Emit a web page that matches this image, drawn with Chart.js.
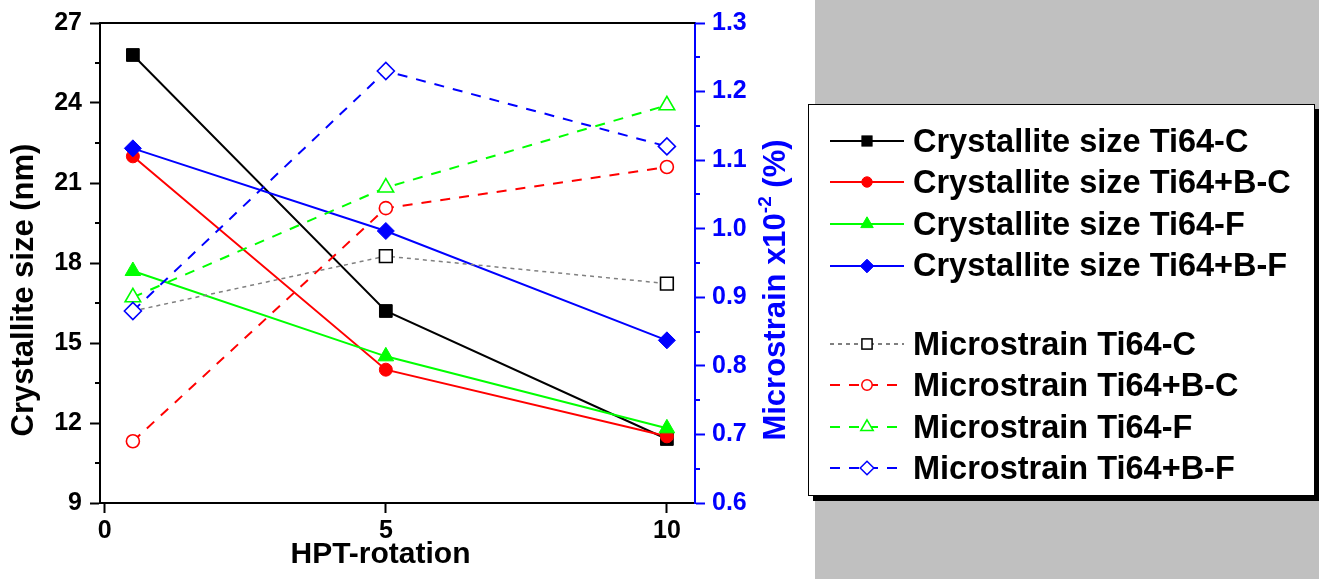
<!DOCTYPE html>
<html>
<head>
<meta charset="utf-8">
<script src="https://cdn.jsdelivr.net/npm/chart.js@4.4.1/dist/chart.umd.min.js"></script>
<style>
  html, body { margin: 0; padding: 0; background: #fff; }
  #wrap { position: relative; width: 1319px; height: 579px; overflow: hidden;
          font-family: "Liberation Sans", Arial, Helvetica, sans-serif; }
  #plot { position: absolute; left: 0; top: 0; }
  #panel { position: absolute; left: 815px; top: 0; width: 504px; height: 579px; background: #c0c0c0; }
  #legend { position: absolute; left: 808px; top: 104px; width: 505px; height: 390px;
            background: #fff; border: 1px solid #000; box-shadow: 5px 5px 0 #000; }
  .row { position: absolute; left: 0; height: 40px; display: flex; align-items: center; }
  .row svg { margin-left: 21px; flex: none; }
  .row span { margin-left: 9px; font-weight: bold; font-size: 32.5px; color: #000; white-space: nowrap; }
</style>
</head>
<body>
<div id="wrap">
  <canvas id="plot" width="1319" height="579"></canvas>
  <div id="panel"></div>
  <div id="legend"></div>
</div>
<script>
// HPT rotations (x values)
const rotations = [0.5, 5, 10];

// Crystallite size (nm), left axis
const sizeTi64C  = [25.8, 16.2, 11.4];
const sizeTi64BC = [22.0, 14.0, 11.5];
const sizeTi64F  = [17.7, 14.5, 11.8];
const sizeTi64BF = [22.3, 19.2, 15.1];

// Microstrain (x10^-2 %), right axis
const strainTi64C  = [0.88, 0.96, 0.92];
const strainTi64BC = [0.69, 1.03, 1.09];
const strainTi64F  = [0.90, 1.06, 1.18];
const strainTi64BF = [0.88, 1.23, 1.12];

// Tick labels
const xTickValues = [0, 5, 10];
const sizeTickValues = [9, 12, 15, 18, 21, 24, 27];
const strainTickValues = [0.6, 0.7, 0.8, 0.9, 1.0, 1.1, 1.2, 1.3];

const FONT = "'Liberation Sans', Arial, Helvetica, sans-serif";
Chart.defaults.font.family = FONT;

const BLACK = '#000000', RED = '#ff0000', GREEN = '#00ff00', BLUE = '#0000ff', GREY = '#808080';

// Series appearance
const series = [
  { label: 'Crystallite size Ti64-C',   values: sizeTi64C,   axis: 'y',  color: BLACK, line: BLACK, dash: [],      width: 2,   shape: 'rect',     filled: true,  r: 9 },
  { label: 'Crystallite size Ti64+B-C', values: sizeTi64BC,  axis: 'y',  color: RED,   line: RED,   dash: [],      width: 2,   shape: 'circle',   filled: true,  r: 6.5 },
  { label: 'Crystallite size Ti64-F',   values: sizeTi64F,   axis: 'y',  color: GREEN, line: GREEN, dash: [],      width: 2,   shape: 'triangle', filled: true,  r: 9 },
  { label: 'Crystallite size Ti64+B-F', values: sizeTi64BF,  axis: 'y',  color: BLUE,  line: BLUE,  dash: [],      width: 2,   shape: 'rectRot',  filled: true,  r: 8.5 },
  { label: 'Microstrain Ti64-C',        values: strainTi64C,  axis: 'y1', color: BLACK, line: GREY,  dash: [4, 4],  width: 1.5, shape: 'rect',     filled: false, r: 9, hideFirst: true },
  { label: 'Microstrain Ti64+B-C',      values: strainTi64BC, axis: 'y1', color: RED,   line: RED,   dash: [10, 9], width: 2,   shape: 'circle',   filled: false, r: 6.5 },
  { label: 'Microstrain Ti64-F',        values: strainTi64F,  axis: 'y1', color: GREEN, line: GREEN, dash: [10, 9], width: 2,   shape: 'triangle', filled: false, r: 9 },
  { label: 'Microstrain Ti64+B-F',      values: strainTi64BF, axis: 'y1', color: BLUE,  line: BLUE,  dash: [10, 9], width: 2,   shape: 'rectRot',  filled: false, r: 8.5 }
];

const datasets = series.map((s, i) => ({
  label: s.label,
  data: rotations.map((x, k) => ({ x: x, y: s.values[k] })),
  yAxisID: s.axis,
  order: series.length - i,
  borderColor: s.line,
  borderWidth: s.width,
  borderDash: s.dash,
  tension: 0,
  fill: false,
  pointStyle: s.shape,
  pointRadius: s.hideFirst ? rotations.map((_, k) => (k === 0 ? 0 : s.r)) : s.r,
  pointHoverRadius: s.r,
  pointBackgroundColor: s.filled ? s.color : '#ffffff',
  pointBorderColor: s.color,
  pointBorderWidth: s.filled ? 1 : 1.6
}));

function fixedTicks(values) {
  return function (scale) { scale.ticks = values.map(v => ({ value: v })); };
}

// Draws a vertical title reading bottom to top; parts are [text, font, raise]
function verticalTitle(ctx, cx, cy, parts, color) {
  ctx.save();
  const widths = parts.map(p => { ctx.font = p[1]; return ctx.measureText(p[0]).width; });
  const total = widths.reduce((a, b) => a + b, 0);
  ctx.translate(cx, cy);
  ctx.rotate(-Math.PI / 2);
  ctx.fillStyle = color;
  ctx.textAlign = 'left';
  ctx.textBaseline = 'middle';
  let x = -total / 2;
  parts.forEach((p, i) => { ctx.font = p[1]; ctx.fillText(p[0], x, -p[2]); x += widths[i]; });
  ctx.restore();
}

// Frame: top border, minor ticks and axis titles
const framePlugin = {
  id: 'frame',
  afterDraw(chart) {
    const { ctx, chartArea: a, scales } = chart;
    ctx.save();
    ctx.strokeStyle = BLACK;
    ctx.lineWidth = 2;
    ctx.beginPath();
    ctx.moveTo(a.left - 1, a.top);
    ctx.lineTo(a.right, a.top);
    ctx.stroke();

    const minor = (scale, vals, x0, x1, color) => {
      ctx.strokeStyle = color;
      ctx.lineWidth = 2;
      for (let i = 0; i < vals.length - 1; i++) {
        const y = Math.round(scale.getPixelForValue((vals[i] + vals[i + 1]) / 2));
        ctx.beginPath();
        ctx.moveTo(x0, y);
        ctx.lineTo(x1, y);
        ctx.stroke();
      }
    };
    minor(scales.y, sizeTickValues, a.left - 5, a.left, BLACK);
    minor(scales.y1, strainTickValues, a.right, a.right + 5, BLUE);

    // x-axis title
    ctx.fillStyle = BLACK;
    ctx.font = 'bold 30px ' + FONT;
    ctx.textAlign = 'center';
    ctx.textBaseline = 'middle';
    ctx.fillText('HPT-rotation', (a.left + a.right) / 2 - 17, 555);
    ctx.restore();

    const big = 'bold 31px ' + FONT, small = 'bold 19px ' + FONT;
    const titleY = (a.top + a.bottom) / 2 + 27;
    verticalTitle(ctx, a.left - 76, titleY, [['Crystallite size (nm)', big, 0]], BLACK);
    verticalTitle(ctx, a.right + 81, titleY,
      [['Microstrain x10', big, 0], ['-2', small, 10], [' (%)', big, 0]], BLUE);
  }
};

new Chart(document.getElementById('plot'), {
  type: 'line',
  data: { datasets: datasets },
  options: {
    responsive: false,
    animation: false,
    devicePixelRatio: 1,
    layout: { padding: { top: 20, right: 514, left: 0, bottom: 0 } },
    plugins: { legend: { display: false }, tooltip: { enabled: false } },
    scales: {
      x: {
        type: 'linear',
        min: -0.085,
        max: 10.5,
        afterBuildTicks: fixedTicks(xTickValues),
        afterFit(scale) { scale.height = 76; },
        border: { display: true, color: BLACK, width: 2 },
        grid: { drawOnChartArea: false, drawTicks: true, tickLength: 10, tickWidth: 2, tickColor: BLACK },
        ticks: { color: BLACK, padding: 3, font: { size: 25, weight: 'bold' }, maxRotation: 0,
                 callback: v => String(v) },
        title: { display: false }
      },
      y: {
        type: 'linear',
        position: 'left',
        min: 9,
        max: 27,
        afterBuildTicks: fixedTicks(sizeTickValues),
        afterFit(scale) { scale.width = 100; },
        border: { display: true, color: BLACK, width: 2 },
        grid: { drawOnChartArea: false, drawTicks: true, tickLength: 10, tickWidth: 2, tickColor: BLACK },
        ticks: { color: BLACK, padding: 8, font: { size: 25, weight: 'bold' }, callback: v => String(v) },
        title: { display: false }
      },
      y1: {
        type: 'linear',
        position: 'right',
        min: 0.6,
        max: 1.3,
        afterBuildTicks: fixedTicks(strainTickValues),
        afterFit(scale) { scale.width = 110; },
        border: { display: true, color: BLUE, width: 2 },
        grid: { drawOnChartArea: false, drawTicks: true, tickLength: 10, tickWidth: 2, tickColor: BLUE },
        ticks: { color: BLUE, padding: 7, font: { size: 25, weight: 'bold' }, callback: v => v.toFixed(1) },
        title: { display: false }
      }
    }
  },
  plugins: [framePlugin]
});

// Legend with line-and-marker samples
function markerSvg(s, cx, cy, scale) {
  const r = s.r * scale;
  const fill = s.filled ? s.color : '#ffffff';
  const sw = s.filled ? 1 : 1.5;
  const common = `fill="${fill}" stroke="${s.color}" stroke-width="${sw}"`;
  if (s.shape === 'rect') {
    const h = r * Math.SQRT1_2;
    return `<rect x="${cx - h}" y="${cy - h}" width="${2 * h}" height="${2 * h}" ${common}/>`;
  }
  if (s.shape === 'circle') return `<circle cx="${cx}" cy="${cy}" r="${r}" ${common}/>`;
  if (s.shape === 'triangle') {
    const dx = r * Math.sin(2 * Math.PI / 3);
    return `<polygon points="${cx},${cy - r} ${cx + dx},${cy + r / 2} ${cx - dx},${cy + r / 2}" ${common}/>`;
  }
  return `<polygon points="${cx},${cy - r} ${cx + r},${cy} ${cx},${cy + r} ${cx - r},${cy}" ${common}/>`;
}

const legendEl = document.getElementById('legend');
const rowTops = [16, 57, 99, 140.5, 219, 260, 302, 343];
series.forEach((s, i) => {
  const row = document.createElement('div');
  row.className = 'row';
  row.style.top = rowTops[i] + 'px';
  const dash = s.dash.length ? `stroke-dasharray="${s.dash.join(' ')}"` : '';
  const legendLine = s.line === GREY ? BLACK : s.line;
  row.innerHTML =
    `<svg width="74" height="40" viewBox="0 0 74 40">` +
    `<line x1="0" y1="20" x2="74" y2="20" stroke="${legendLine}" stroke-width="${s.width === 2 ? 2 : 1.2}" ${dash}/>` +
    markerSvg(s, 37, 20, 0.8) +
    `</svg><span></span>`;
  row.querySelector('span').textContent = s.label;
  legendEl.appendChild(row);
});
</script>
</body>
</html>
